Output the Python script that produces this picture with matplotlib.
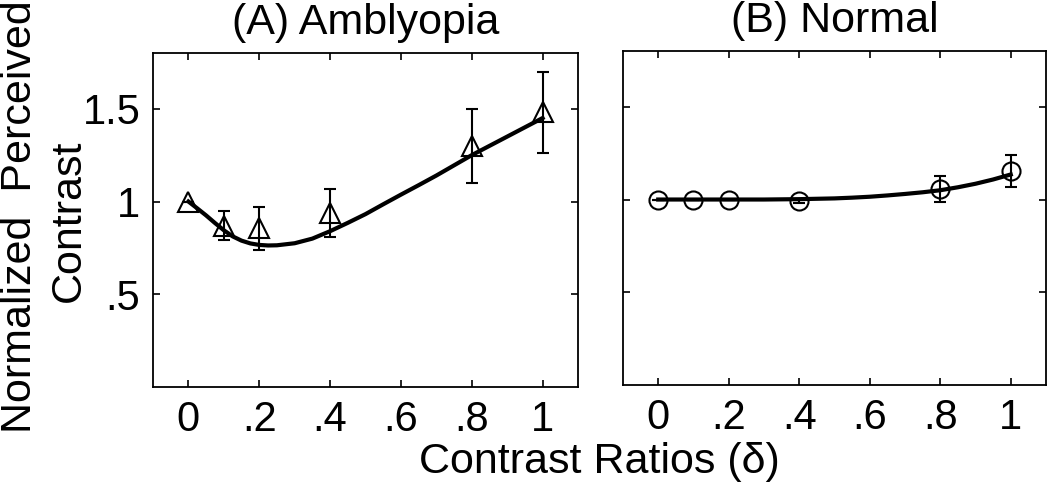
import numpy as np
import matplotlib
matplotlib.use("Agg")
import matplotlib.pyplot as plt

plt.rcParams['font.family'] = ['Liberation Sans', 'DejaVu Sans']

# measured points
x_pts = [0, 0.1, 0.2, 0.4, 0.8, 1.0]
y_amb = [1.0, 0.87, 0.855, 0.94, 1.30, 1.48]
e_amb = [0.0, 0.08, 0.115, 0.13, 0.20, 0.22]
y_nor = [1.0, 1.0, 0.998, 0.993, 1.055, 1.153]
e_nor = [0.0, 0.0, 0.0, 0.01, 0.07, 0.085]

# fitted curves
x_fit = [0, 0.025, 0.05, 0.075, 0.1, 0.125, 0.15, 0.175, 0.2, 0.225, 0.25, 0.3, 0.35,
         0.4, 0.45, 0.5, 0.55, 0.6, 0.65, 0.7, 0.75, 0.8, 0.85, 0.9, 0.95, 1.0]
fit_amb = [1.0, 0.963, 0.925, 0.884, 0.845, 0.812, 0.789, 0.774, 0.766, 0.763, 0.764,
           0.775, 0.80, 0.84, 0.885, 0.932, 0.985, 1.037, 1.088, 1.14, 1.195, 1.25,
           1.30, 1.35, 1.40, 1.45]
fit_nor = [1.0, 1.0, 1.0, 1.0, 1.0, 1.0, 1.0, 1.0, 1.0, 1.0, 1.0, 1.0, 1.001,
           1.002, 1.004, 1.006, 1.01, 1.015, 1.022, 1.03, 1.039, 1.05, 1.066, 1.085,
           1.108, 1.135]

xticks = [0, 0.2, 0.4, 0.6, 0.8, 1]
xticklabels = ['0', '.2', '.4', '.6', '.8', '1']
yticks = [0.5, 1, 1.5]
yticklabels = ['.5', '1', '1.5']

fig = plt.figure(figsize=(10.5, 4.86), dpi=100)
ax1 = fig.add_axes([0.1457, 0.2037, 0.4048, 0.687])
ax2 = fig.add_axes([0.5933, 0.2078, 0.4029, 0.687])

fs_tick = 30
fs = 31
for ax in (ax1, ax2):
    ax.set_xlim(-0.1, 1.1)
    ax.set_ylim(0, 1.8)
    ax.set_xticks(xticks)
    ax.set_xticklabels(xticklabels, fontsize=fs_tick)
    ax.set_yticks(yticks)
    ax.tick_params(direction='in', top=True, right=True, length=5, width=1.2, pad=9)
    for s in ax.spines.values():
        s.set_linewidth(1.3)

ax1.set_yticklabels(yticklabels, fontsize=fs_tick)
ax2.set_yticklabels([])

ax1.plot(x_fit, fit_amb, color='black', lw=3)
ax1.errorbar(x_pts, y_amb, yerr=e_amb, fmt='^', ms=14, mfc='none', mec='black',
             mew=1.5, ecolor='black', elinewidth=1.5, capsize=4, capthick=1.5)
ax2.plot(x_fit, fit_nor, color='black', lw=3)
ax2.errorbar(x_pts, y_nor, yerr=e_nor, fmt='o', ms=13, mfc='none', mec='black',
             mew=1.5, ecolor='black', elinewidth=1.5, capsize=4, capthick=1.5)

ax1.set_title('(A) Amblyopia', fontsize=fs, pad=14)
ax2.set_title('(B) Normal', fontsize=fs, pad=14)

fig.text(0.019, 0.555, 'Normalized  Perceived', rotation=90, fontsize=fs, ha='center', va='center')
fig.text(0.066, 0.545, 'Contrast', rotation=90, fontsize=fs, ha='center', va='center')
fig.text(0.571, 0.05, 'Contrast Ratios (δ)', fontsize=fs, ha='center', va='center')

fig.savefig('out.png', dpi=100)
